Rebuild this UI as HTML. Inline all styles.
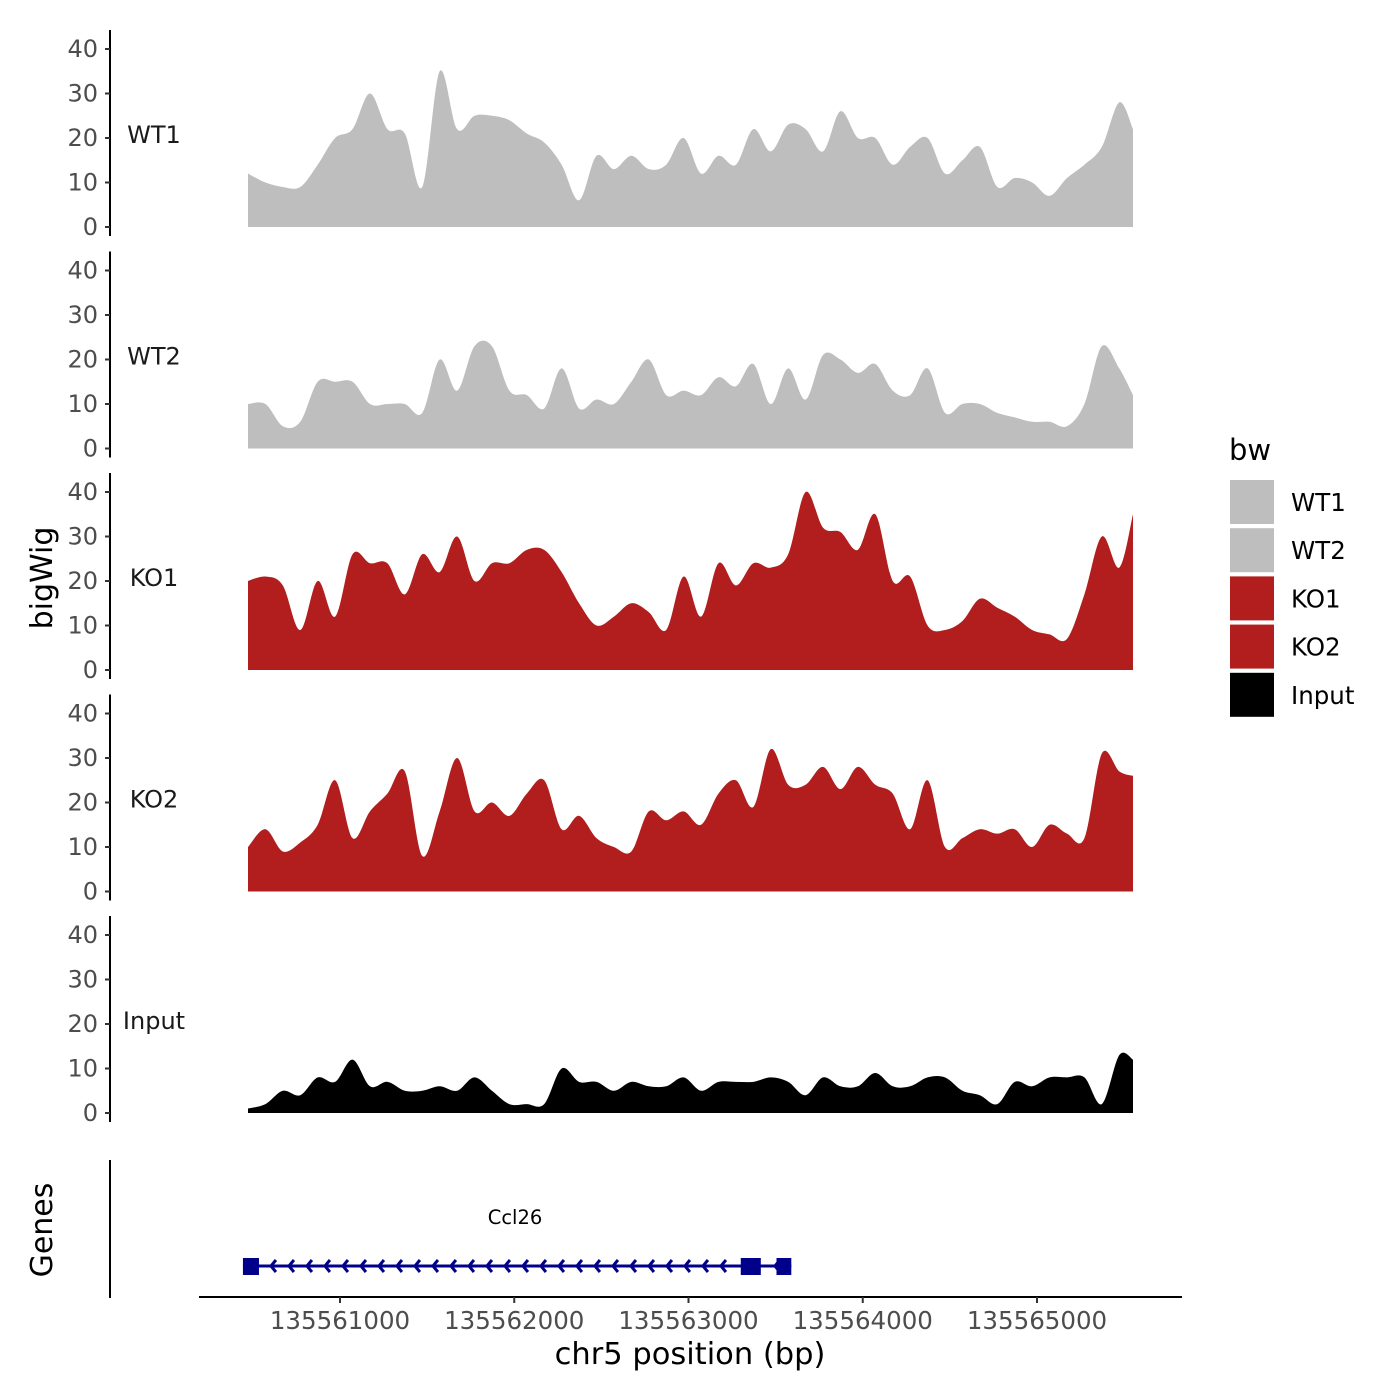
<!DOCTYPE html>
<html><head><meta charset="utf-8"><style>
body{margin:0;background:#fff;}
svg{display:block;font-family:"DejaVu Sans","Liberation Sans",sans-serif;}
</style></head><body>
<svg id="chart" width="1400" height="1400">
<g id="tracks"></g>
<g id="genes"></g>
<g id="legend"></g>
</svg>
<script>
const seriesNames = ["WT1","WT2","KO1","KO2","Input"];
const seriesColors = ["#bebebe","#bebebe","#b21e1e","#b21e1e","#000000"];
const startBp = 135560472;
const stepBp = 100;
const wt1 = [12,10,9,9,14,20,22,30,22,21,9,35,22,25,25,24,21,19,14,6,16,13,16,13,14,20,12,16,14,22,17,23,22,17,26,20,20,14,18,20,12,15,18,9,11,10,7,11,14,18,28,22];
const wt2 = [10,10,5,6,15,15,15,10,10,10,8,20,13,23,23,13,12,9,18,9,11,10,15,20,12,13,12,16,14,19,10,18,11,21,20,17,19,13,12,18,8,10,10,8,7,6,6,5,10,23,18,12];
const ko1 = [20,21,19,9,20,12,26,24,24,17,26,22,30,20,24,24,27,27,22,15,10,12,15,13,9,21,12,24,19,24,23,26,40,32,31,27,35,20,21,10,9,11,16,14,12,9,8,7,17,30,23,35];
const ko2 = [10,14,9,11,15,25,12,18,22,27,8,18,30,18,20,17,22,25,14,17,12,10,9,18,16,18,15,22,25,19,32,24,24,28,23,28,24,22,14,25,10,12,14,13,14,10,15,13,12,31,27,26];
const input = [1,2,5,4,8,7,12,6,7,5,5,6,5,8,5,2,2,2,10,7,7,5,7,6,6,8,5,7,7,7,8,7,4,8,6,6,9,6,6,8,8,5,4,2,7,6,8,8,8,2,13,12];
const seriesValues = [wt1,wt2,ko1,ko2,input];
const yTicks = [0,10,20,30,40];
const xTicks = [135561000,135562000,135563000,135564000,135565000];
const geneStart = 135560443, geneEnd = 135563590;
const exons = [[135560443,135560535],[135563300,135563415],[135563505,135563590]];

const NS="http://www.w3.org/2000/svg";
function mk(tag,attrs,parent){const e=document.createElementNS(NS,tag);for(const k in attrs)e.setAttribute(k,attrs[k]);parent.appendChild(e);return e;}
const xScale = bp => 340 + (bp-135561000)*0.17425;
const panelZero = i => 227 + i*221.5;
const yScale = (v,i) => panelZero(i) - v*4.45;
const xMin = 248, xMax = 1133;

const tracks=document.getElementById('tracks');
seriesValues.forEach((vals,i)=>{
  const g=mk('g',{},tracks);
  
  
  const z=panelZero(i);
  let pts=[];
  vals.forEach((v,j)=>{let x=xScale(startBp+j*stepBp);x=Math.min(Math.max(x,xMin),xMax);pts.push([x,yScale(v,i)]);});
  let d='M'+pts[0][0]+','+z+' L'+pts[0][0]+','+pts[0][1];
  for(let j=0;j<pts.length-1;j++){
    const p0=pts[Math.max(j-1,0)],p1=pts[j],p2=pts[j+1],p3=pts[Math.min(j+2,pts.length-1)];
    const c1x=p1[0]+(p2[0]-p0[0])/6,c1y=p1[1]+(p2[1]-p0[1])/6;
    const c2x=p2[0]-(p3[0]-p1[0])/6,c2y=p2[1]-(p3[1]-p1[1])/6;
    d+=` C${c1x},${Math.min(c1y,z)} ${c2x},${Math.min(c2y,z)} ${p2[0]},${p2[1]}`;
  }
  d+=' L'+pts[pts.length-1][0]+','+z+' Z';
  const a=mk('path',{d:d,fill:seriesColors[i]},g);
  
  
  const ax=mk('line',{x1:110,x2:110,y1:z-197,y2:z+9,stroke:'#000','stroke-width':2},g);
  
  
  yTicks.forEach(t=>{
    const y=yScale(t,i);
    const tl=mk('line',{x1:105,x2:110,y1:y,y2:y,stroke:'#333','stroke-width':2},g);
    
    
    const tx=mk('text',{x:98,y:y+8,'text-anchor':'end','font-size':24,fill:'#4d4d4d'},g);
    tx.textContent=t;
    
    
  });
  const lab=mk('text',{x:154,y:z-84,'text-anchor':'middle','font-size':24,fill:'#1a1a1a'},g);
  lab.textContent=seriesNames[i];
  
  
});
const yt=mk('text',{x:0,y:0,transform:'translate(52,578) rotate(-90)','text-anchor':'middle','font-size':30},tracks);
yt.textContent='bigWig';



const genes=document.getElementById('genes');
const gax=mk('line',{x1:110,x2:110,y1:1160,y2:1298,stroke:'#000','stroke-width':2},genes);


const gt=mk('text',{x:0,y:0,transform:'translate(52,1230) rotate(-90)','text-anchor':'middle','font-size':30},genes);
gt.textContent='Genes';


const xa=mk('line',{x1:199,x2:1182,y1:1297,y2:1297,stroke:'#000','stroke-width':2},genes);


xTicks.forEach(t=>{
  const x=xScale(t);
  const tl=mk('line',{x1:x,x2:x,y1:1297,y2:1303,stroke:'#333','stroke-width':2},genes);
  
  
  const tx=mk('text',{x:x,y:1329,'text-anchor':'middle','font-size':24.5,fill:'#4d4d4d'},genes);
  tx.textContent=t;
  
  
});
const xt=mk('text',{x:690,y:1364,'text-anchor':'middle','font-size':30.5},genes);
xt.textContent='chr5 position (bp)';


const gy=1266;
const gl=mk('line',{x1:xScale(geneStart),x2:xScale(geneEnd),y1:gy,y2:gy,stroke:'#00008b','stroke-width':3},genes);


for(let x=xScale(geneStart)+28;x<xScale(geneEnd)-8;x+=18){
  if(x>xScale(exons[1][0])-4&&x<xScale(exons[1][1])+4)continue;
  const ar=mk('polyline',{points:`${x+5},${gy-6} ${x},${gy} ${x+5},${gy+6}`,fill:'none',stroke:'#00008b','stroke-width':3},genes);
  
  
}
exons.forEach(e=>{
  const r=mk('rect',{x:xScale(e[0]),y:gy-8,width:xScale(e[1])-xScale(e[0]),height:17,fill:'#00008b'},genes);
  
  
});
const gn=mk('text',{x:515,y:1224,'text-anchor':'middle','font-size':19.5},genes);
gn.textContent='Ccl26';



const legend=document.getElementById('legend');
const lt=mk('text',{x:1229,y:460,'font-size':29},legend);
lt.textContent='bw';


seriesNames.forEach((n,i)=>{
  const y=480+i*48.2;
  const r=mk('rect',{x:1230,y:y,width:44,height:44,fill:seriesColors[i]},legend);
  
  
  const t=mk('text',{x:1291,y:y+31,'font-size':24.5},legend);
  t.textContent=n;
  
  
});
</script>
</body></html>
